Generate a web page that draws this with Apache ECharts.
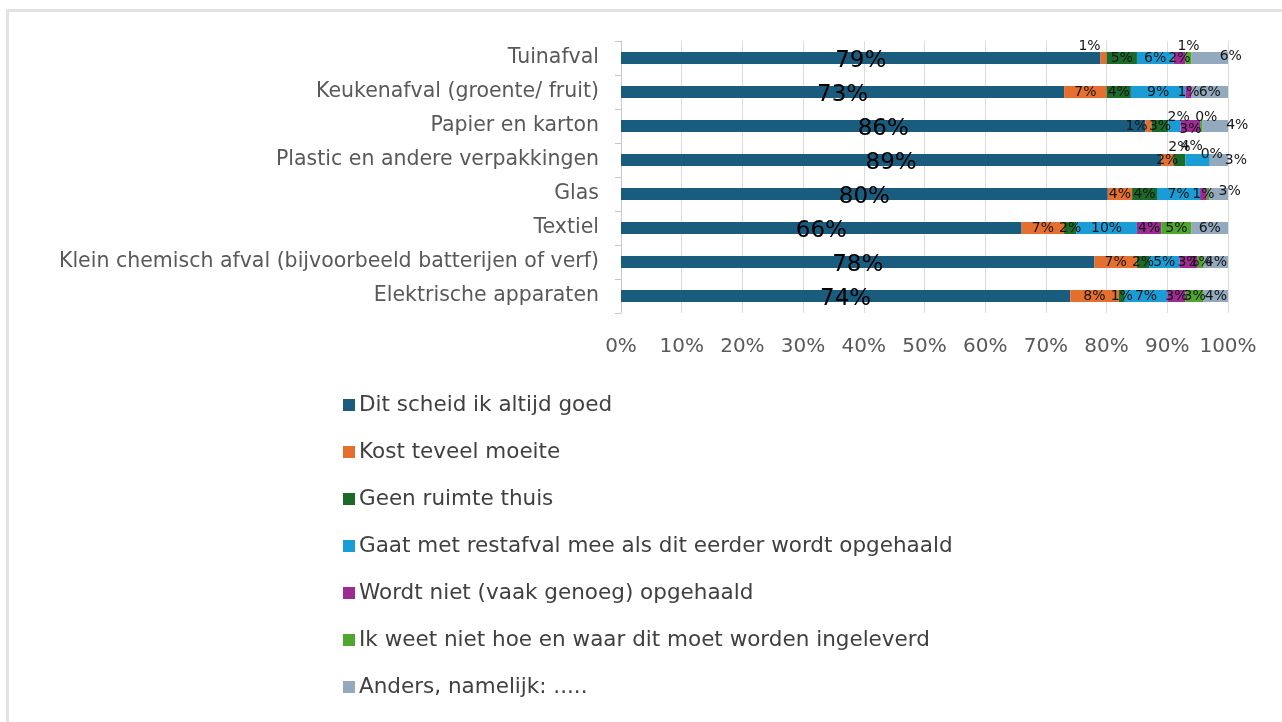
<!DOCTYPE html>
<html>
<head>
<meta charset="utf-8">
<script src="https://cdn.jsdelivr.net/npm/echarts@6/dist/echarts.min.js"></script>
<style>
  html, body { margin: 0; padding: 0; background: #fff; }
  #chart { width: 1282px; height: 722px; }
</style>
</head>
<body>
<div id="chart"></div>
<script>
// categories, top to bottom
const categories = [
  'Tuinafval',
  'Keukenafval (groente/ fruit)',
  'Papier en karton',
  'Plastic en andere verpakkingen',
  'Glas',
  'Textiel',
  'Klein chemisch afval (bijvoorbeeld batterijen of verf)',
  'Elektrische apparaten'
]
const seriesNames = [
  'Dit scheid ik altijd goed',
  'Kost teveel moeite',
  'Geen ruimte thuis',
  'Gaat met restafval mee als dit eerder wordt opgehaald',
  'Wordt niet (vaak genoeg) opgehaald',
  'Ik weet niet hoe en waar dit moet worden ingeleverd',
  'Anders, namelijk: .....'
]
// percentages per answer
const altijdGoed = [79, 73, 86.4, 89, 80.2, 66, 78, 74]
const teveelMoeite = [1, 7, 1.0, 2, 4.0, 7, 7, 8]
const geenRuimte = [5, 4, 2.8, 2, 4.1, 2, 2, 1]
const restafval = [6, 9, 2.0, 4, 7.1, 10, 5, 7]
const nietOpgehaald = [2, 1, 3.2, 0, 1.1, 4, 3, 3]
const weetNiet = [1, 0, 0.4, 0, 0.4, 5, 1, 3]
const anders = [6, 6, 4.2, 3, 3.1, 6, 4, 4]
const xTicks = [0, 10, 20, 30, 40, 50, 60, 70, 80, 90, 100]

const values = [altijdGoed, teveelMoeite, geenRuimte, restafval, nietOpgehaald, weetNiet, anders]
const colors = ['#1a5c7e', '#e46f2f', '#1c6a2a', '#1a9dd6', '#9c2b93', '#4ea62f', '#93a9be']

// hand-moved labels like in the original (key: series-category)
const labelTweaks = {
  '1-0': { offset: [-14, -12] },
  '5-0': { offset: [0, -12] },
  '6-0': { offset: [21, -2] },
  '5-1': { show: false },
  '1-2': { offset: [-12, 0] },
  '3-2': { offset: [4, -9] },
  '4-2': { offset: [0, 3] },
  '5-2': { offset: [5, -9] },
  '6-2': { offset: [22, -1] },
  '2-3': { offset: [0, -13] },
  '3-3': { offset: [-6, -14] },
  '4-3': { offset: [2, -6] },
  '5-3': { show: false },
  '6-3': { offset: [17, 0] },
  '5-4': { show: false },
  '6-4': { offset: [11, -3] }
}

const font = '"DejaVu Sans", sans-serif'
let myChart = echarts.init(document.getElementById('chart'))

let series = seriesNames.map((name, s) => ({
  name: name,
  type: 'bar',
  stack: 'total',
  barWidth: 12,
  itemStyle: { color: colors[s] },
  label: {
    show: true,
    position: 'inside',
    fontFamily: font,
    color: s === 0 ? '#000' : '#151515',
    fontSize: s === 0 ? 23 : 14,
    offset: s === 0 ? [0, 3] : [0, 0],
    formatter: p => Math.round(p.value) + '%'
  },
  data: values[s].map((v, c) => {
    const t = labelTweaks[s + '-' + c]
    return t ? { value: v, label: t } : v
  })
}))

let option = {
  animation: false,
  textStyle: { fontFamily: font },
  graphic: [{
    type: 'rect',
    shape: { x: 7.5, y: 10.5, width: 1290, height: 730 },
    style: { fill: 'none', stroke: '#e3e3e3', lineWidth: 3 },
    silent: true
  }],
  grid: { left: 621, right: 54, top: 41, bottom: 409, containLabel: false },
  legend: {
    orient: 'vertical',
    left: 343,
    top: 393,
    padding: 0,
    icon: 'rect',
    itemWidth: 12,
    itemHeight: 12,
    itemGap: 23,
    textStyle: { fontSize: 21.5, color: '#404040', lineHeight: 24, fontFamily: font, padding: [0, 0, 0, -1] },
    data: seriesNames
  },
  xAxis: {
    type: 'value',
    min: 0,
    max: 100,
    interval: 10,
    axisLine: { show: false },
    axisTick: { show: false },
    splitLine: { lineStyle: { color: '#dcdcdc', width: 1 } },
    axisLabel: {
      margin: 24,
      fontSize: 20,
      color: '#595959',
      fontFamily: font,
      formatter: v => (xTicks.includes(v) ? v + '%' : '')
    }
  },
  yAxis: {
    type: 'category',
    inverse: true,
    data: categories,
    axisLine: { show: true, lineStyle: { color: '#c8c8c8' } },
    axisTick: { show: true, length: 6, lineStyle: { color: '#c8c8c8' } },
    axisLabel: { fontSize: 20.5, color: '#595959', margin: 22, fontFamily: font }
  },
  series: series
}
myChart.setOption(option)
window.addEventListener('resize', () => myChart.resize())
</script>
</body>
</html>
